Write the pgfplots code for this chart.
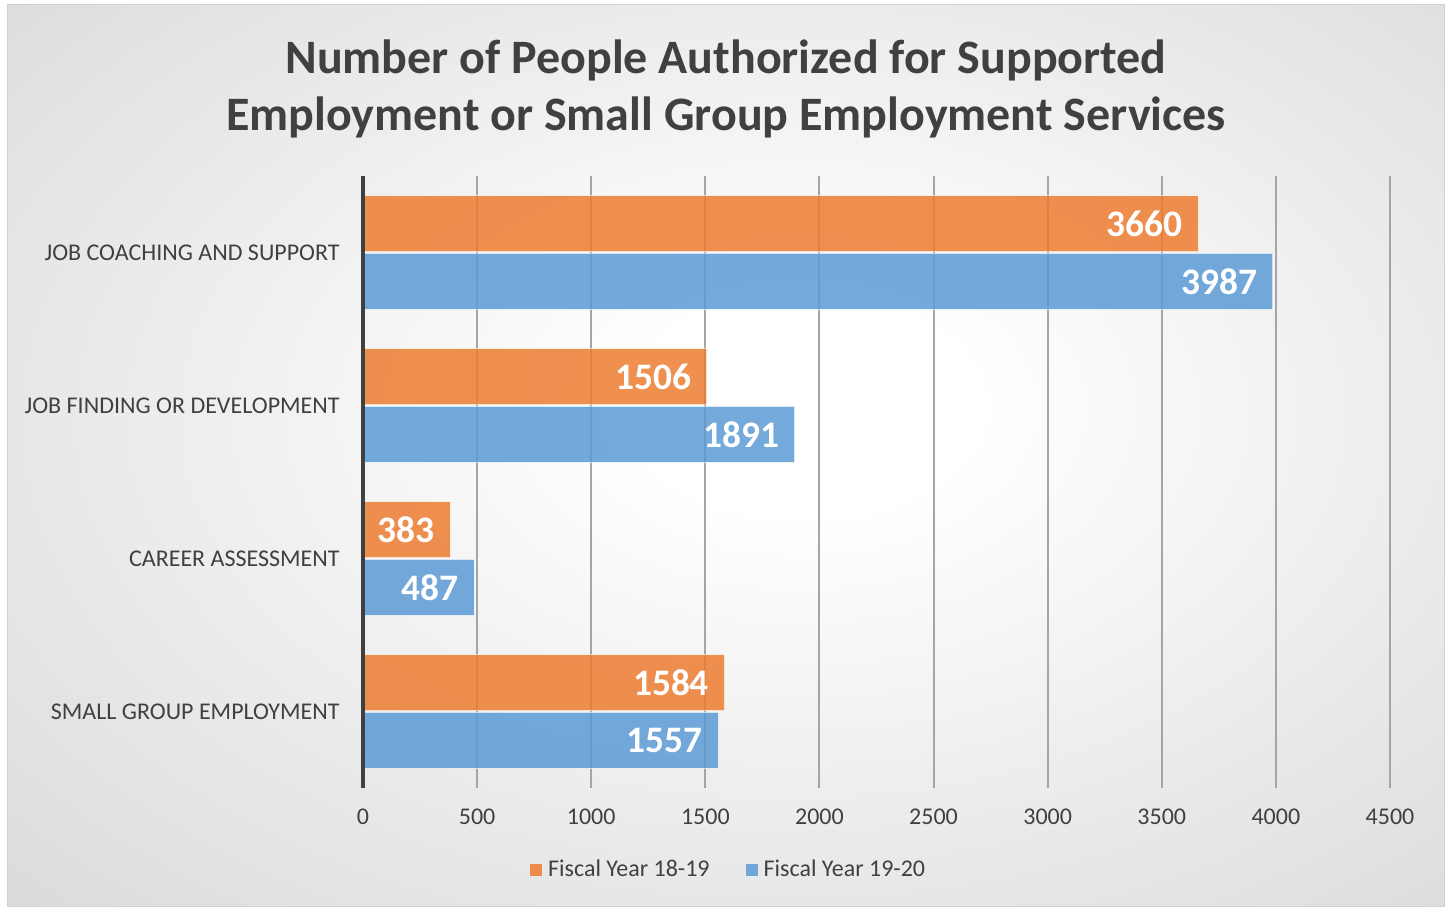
\documentclass[border=0pt]{standalone}
\usepackage{pgfplots}
\pgfplotsset{compat=1.18}
\usepackage{pgfplotstable}
\usepackage{fontspec}
\setmainfont{Carlito}

\definecolor{fyA}{RGB}{237,125,49}
\definecolor{fyB}{RGB}{91,155,213}
\definecolor{txt}{RGB}{64,64,64}
\definecolor{gridc}{RGB}{165,165,165}
\pgfdeclareradialshading{bgshade}{\pgfpoint{3bp}{3bp}}{color(0bp)=(white); color(6bp)=(white); color(50bp)=(black!20); color(72bp)=(black!26)}

% ya/yb: bar centres, category index +/- half a bar
\pgfplotstableread{
cat ya yb a b
0 0.188 -0.188 1584 1557
1 1.188 0.812 383 487
2 2.188 1.812 1506 1891
3 3.188 2.812 3660 3987
}\datatable

\begin{document}
\begin{tikzpicture}
% background, 1px = 0.5pt
\fill[white] (0,0) rectangle (725pt,453.5pt);
\shade[shading=bgshade] (3.5pt,0.5pt) rectangle (722pt,451pt);
\draw[black!18, line width=0.5pt] (3.5pt,0.5pt) rectangle (722pt,451pt);

\node[font=\fontsize{24}{28}\selectfont\bfseries, text=txt] at (363pt,423.5pt) {Number of People Authorized for Supported};
\node[font=\fontsize{24}{28}\selectfont\bfseries, text=txt] at (363pt,395pt) {Employment or Small Group Employment Services};

\begin{axis}[
  at={(181.5pt,59.5pt)}, anchor=south west,
  width=513.5pt, height=306pt, scale only axis,
  clip=false,
  xmin=0, xmax=4500, ymin=-0.5, ymax=3.5,
  xtick={0,500,...,4500},
  ytick={0,1,2,3},
  yticklabels={SMALL GROUP EMPLOYMENT, CAREER ASSESSMENT, JOB FINDING OR DEVELOPMENT, JOB COACHING AND SUPPORT},
  scaled x ticks=false,
  /pgf/number format/.cd, 1000 sep={}, assume math mode=true, /pgfplots/.cd,
  major tick length=0pt,
  axis line style={draw=none},
  xmajorgrids, major grid style={gridc, line width=1pt},
  tick label style={font=\fontsize{12}{14}\selectfont, text=txt, inner sep=0pt},
  xticklabel style={anchor=center, yshift=-14.5pt},
  yticklabel style={anchor=east, xshift=-11.5pt},
  xbar, bar width=28pt, bar shift=0pt,
  nodes near coords,
  every node near coord/.style={anchor=east, inner sep=0pt, xshift=-7.5pt, text=white, text opacity=1,
    font=\fontsize{18.7}{20}\selectfont\bfseries},
  legend style={at={(0.358,-0.134)}, anchor=center, draw=none, fill=none,
    legend columns=2, font=\fontsize{12}{14}\selectfont, text=txt,
    /tikz/every even column/.append style={column sep=15pt},
    nodes={inner xsep=3pt}},
  legend image code/.code={\fill[#1, draw=none, fill opacity=0.85] (0pt,-3pt) rectangle (6pt,3pt);},
]
\addplot[fill=fyA, fill opacity=0.85, draw=white, draw opacity=0.6, line width=0.6pt]
  table[x=a, y=ya]{\datatable};
\addplot[fill=fyB, fill opacity=0.85, draw=white, draw opacity=0.6, line width=0.6pt]
  table[x=b, y=yb]{\datatable};
\legend{Fiscal Year 18-19, Fiscal Year 19-20}
\draw[txt, line width=2pt] (axis cs:0,-0.5) -- (axis cs:0,3.5);
\end{axis}
\end{tikzpicture}
\end{document}
